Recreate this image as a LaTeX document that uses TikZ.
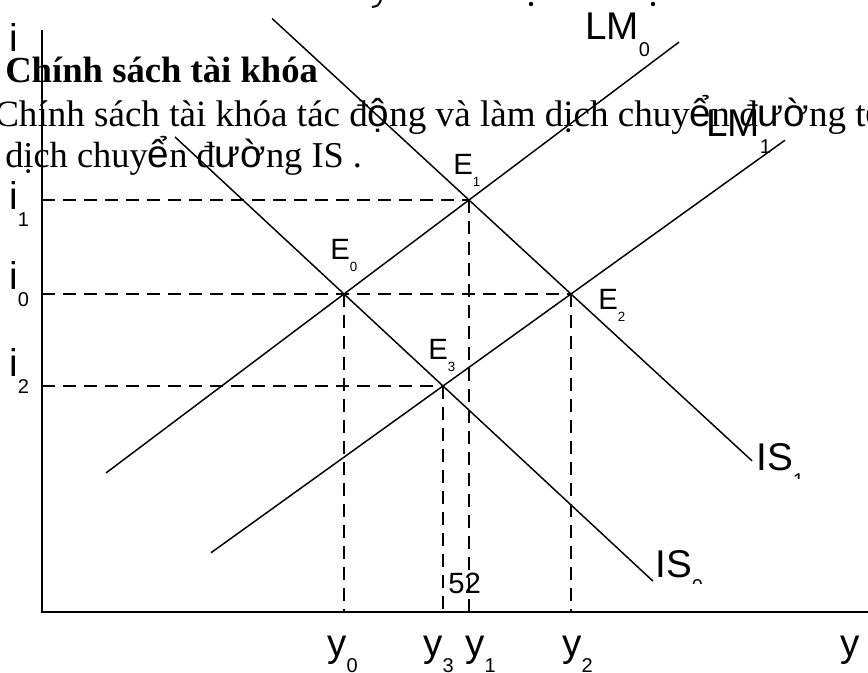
\documentclass[tikz,border=0pt]{standalone}
\usepackage{fontspec}
\setmainfont{Liberation Serif}
\newfontfamily\labfont{Liberation Sans}
\usetikzlibrary{calc}

\newcommand\lsub[1]{\raisebox{-12.5pt}{\fontsize{15}{15}\selectfont #1}}
\newcommand\esub[1]{\raisebox{-8.5pt}{\fontsize{10}{10}\selectfont #1}}
\newcommand\fb[1]{{\labfont\fontsize{29}{29}\selectfont #1}}

\begin{document}
\begin{tikzpicture}[x=0.75pt,y=-0.75pt,
  curve/.style={line width=1.1pt},
  guide/.style={line width=2pt,dash pattern=on 9.75pt off 6pt},
  axis/.style={line width=1.5pt},
  lab/.style={font=\labfont\fontsize{29}{29}\selectfont,inner sep=0pt,anchor=base west},
  elab/.style={font=\labfont\fontsize{22}{22}\selectfont,inner sep=0pt,anchor=base west},
  txt/.style={font=\fontsize{27.8}{27.8}\selectfont,inner sep=0pt,anchor=base west}]
\useasboundingbox (0,0) rectangle (868,673);

% --- slide text behind the graph ---
\node[txt,font=\bfseries\fontsize{27.5}{27.5}\selectfont] (title) at (5,83) {Chính sách tài khóa};
\node[txt] (bodyone) at (-6,127) {Chính sách tài khóa tác đ\fb{ộ}ng và làm dịch chuy\fb{ể}n đ\fb{ườ}ng t\fb{ổ}};
\node[txt,font=\fontsize{27.3}{27.3}\selectfont] (bodytwo) at (5,168) {dịch chuy\fb{ể}n đ\fb{ườ}ng IS .};

% remains of the line above the slide
\draw[line width=1.5pt] (372,7) .. controls (378,6) .. (381,0);
\fill (531,4) circle (2.2);
\fill (653,4) circle (2.2);

% --- axes ---
\coordinate (O) at (42,612);
\coordinate (Itop) at (42,30);
\coordinate (Yend) at (868,612);
\draw[axis] (Itop) -- (O) -- (Yend);

% --- equilibrium points ---
\coordinate (E0) at (344,294);
\coordinate (E1) at (469,200);
\coordinate (E2) at (571,294);
\coordinate (E3) at (443,386);

% --- LM and IS curves through them ---
\draw[curve] ($(E0)!-1.904!(E1)$) -- ($(E0)!2.68!(E1)$);   % LM0
\draw[curve] ($(E3)!-1.8125!(E2)$) -- ($(E3)!2.672!(E2)$); % LM1
\draw[curve] ($(E0)!-1.707!(E3)$) -- ($(E0)!3.121!(E3)$);  % IS0
\draw[curve] ($(E1)!-1.931!(E2)$) -- ($(E1)!2.775!(E2)$);  % IS1

% --- dashed guides ---
\foreach \p in {E0,E1,E2,E3}{
  \draw[guide] (O |- \p) -- (\p);
  \draw[guide] (\p) -- (\p |- O);
}

% --- axis labels ---
\node[lab] (ilabel) at (9,52) {i};
\node[lab] (ione) at (9,210) {i\lsub{1}};
\node[lab] (izero) at (9,290) {i\lsub{0}};
\node[lab] (itwo) at (9,377) {i\lsub{2}};

\node[lab] (yzero) at (327,656) {y\lsub{0}};
\node[lab] (ythree) at (423,656) {y\lsub{3}};
\node[lab] (yone) at (465,656) {y\lsub{1}};
\node[lab] (ytwo) at (562,656) {y\lsub{2}};
\node[lab] (ylabel) at (840,656) {y};

% --- curve labels ---
\node[lab] (lmzero) at (585,40) {LM\lsub{0}};
\node[lab] (lmone) at (706,137) {LM\lsub{1}};
\begin{scope}
  \clip (740,420) rectangle (868,479);
  \node[lab] (isone) at (756,471) {IS\lsub{1}};
\end{scope}
\begin{scope}
  \clip (640,520) rectangle (760,583);
  \node[lab] (iszero) at (655,577) {IS\lsub{0}};
\end{scope}

% --- point labels ---
\node[elab] (eone) at (453,175) {E\esub{1}};
\node[elab] (ezero) at (330,260) {E\esub{0}};
\node[elab] (ethree) at (428,360) {E\esub{3}};
\node[elab] (etwo) at (598,310) {E\esub{2}};

% slide number
\node[lab,font=\labfont\fontsize{22}{22}\selectfont] (pagenum) at (448,594) {52};
\end{tikzpicture}
\end{document}
